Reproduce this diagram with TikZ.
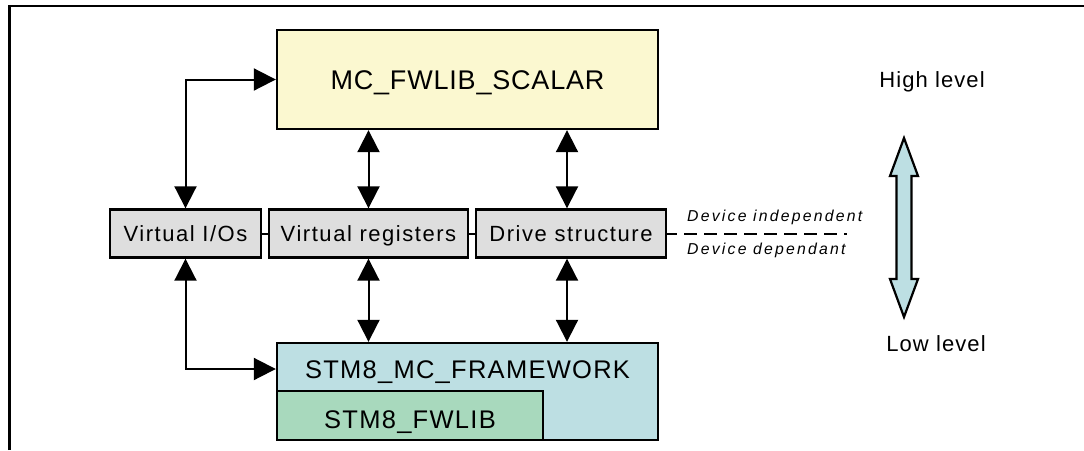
\documentclass[tikz,border=0pt]{standalone}
\usepackage{fontspec}
\setmainfont{Liberation Sans}
\usetikzlibrary{arrows.meta, calc}
\definecolor{scalaryellow}{HTML}{FBF8D0}
\definecolor{midgray}{HTML}{DEDEDE}
\definecolor{fwblue}{HTML}{BDDFE3}
\definecolor{libgreen}{HTML}{A8D9BD}
\tikzset{
  layerbox/.style = {draw, line width=2.4pt, inner sep=0pt, text depth=0pt},
  midbox/.style = {layerbox, fill=midgray, minimum height=48pt, text height=15.8pt,
    font=\fontsize{22}{24}\selectfont\addfontfeatures{LetterSpace=7}},
  bigtext/.style = {inner sep=0pt, text height=18.3pt, text depth=0pt,
    font=\fontsize{25.5}{28}\selectfont\addfontfeatures{LetterSpace=5}},
  leveltext/.style = {inner sep=0pt, text height=15.8pt, text depth=0pt,
    font=\fontsize{22}{24}\selectfont\addfontfeatures{LetterSpace=5}},
  devtext/.style = {inner sep=0pt, anchor=base west,
    font=\fontsize{15.8}{18}\selectfont\itshape\addfontfeatures{LetterSpace=14}},
  link/.style = {line width=2pt,
    {Triangle[length=22pt,width=22pt]}-{Triangle[length=22pt,width=22pt]}},
}

\begin{document}
\begin{tikzpicture}[x=1pt, y=-1pt]
\useasboundingbox (0,0) rectangle (1084,450);
% frame
\draw[line width=2.2pt] (9.5,450) -- (9.5,6) -- (1084,6);
% upper layer
\node[layerbox, fill=scalaryellow, minimum width=381pt, minimum height=99pt, text height=19.3pt,
  font=\fontsize{27}{30}\selectfont\addfontfeatures{LetterSpace=3}] (scalar) at (467.5,79.5) {MC\_FWLIB\_SCALAR};
% middle layer
\node[midbox, minimum width=151pt] (vio) at (185.5,233.5) {Virtual I/Os};
\node[midbox, minimum width=199pt] (vreg) at (368.5,233.5) {Virtual registers};
\node[midbox, minimum width=190pt] (drv) at (571,233.5) {Drive structure};
\draw[line width=2pt] (vio.east) -- (vreg.west);
\draw[line width=2pt] (vreg.east) -- (drv.west);
% lower layer
\node[layerbox, fill=fwblue, minimum width=381pt, minimum height=97pt] (fw) at (467.5,391.5) {};
\node[bigtext] (fwtxt) at (467.5,369) {STM8\_MC\_FRAMEWORK};
\node[layerbox, fill=libgreen, minimum width=266pt, minimum height=49pt] (lib) at (410,415.5) {};
\node[bigtext] (libtxt) at (410,419) {STM8\_FWLIB};
% links
\draw[link] (vio.north) |- (scalar.west);
\draw[link] (vreg.north) -- (vreg.north |- scalar.south);
\draw[link] ([xshift=-4pt]drv.north) -- ([xshift=-4pt]drv.north |- scalar.south);
\draw[link] (vio.south) |- (fw.west |- fwtxt);
\draw[link] (vreg.south) -- (vreg.south |- fw.north);
\draw[link] ([xshift=-4pt]drv.south) -- ([xshift=-4pt]drv.south |- fw.north);
% device boundary
\coordinate (dashend) at (847,233.5);
\draw[line width=2pt, dash pattern=on 13pt off 7pt, dash phase=3pt] (drv.east) -- (dashend);
\node[devtext] (indep) at (687,221) {Device independent};
\node[devtext] (dep) at (687,254.5) {Device dependant};
% level arrow
\draw[line width=2.2pt, fill=fwblue, line join=miter]
  (904,138) -- (918,176) -- (911.5,176) -- (911.5,279) -- (918,279) -- (904,317)
  -- (890,279) -- (896.5,279) -- (896.5,176) -- (890,176) -- cycle;
\node[leveltext] (high) at (932,80) {High level};
\node[leveltext] (low) at (936,343.3) {Low level};
\end{tikzpicture}
\end{document}
